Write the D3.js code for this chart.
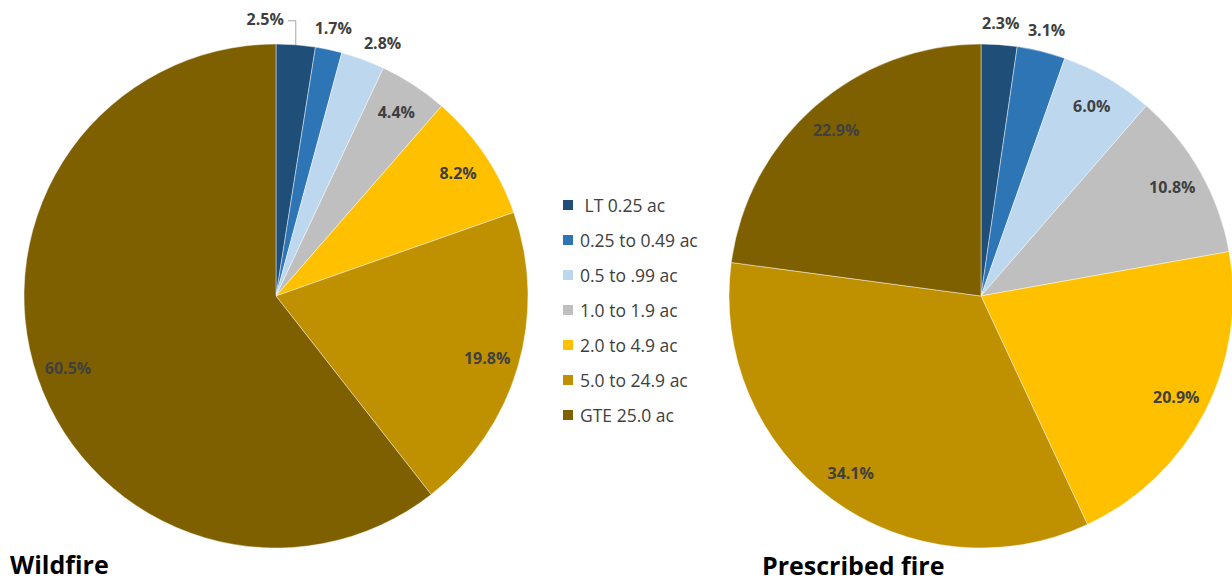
<!DOCTYPE html>
<html>
<head>
<meta charset="utf-8">
<script src="https://cdn.jsdelivr.net/npm/d3@7/dist/d3.min.js"></script>
<style>
  html, body { margin: 0; padding: 0; background: #fff; }
  svg { display: block; }
</style>
</head>
<body>
<svg id="chart" width="1232" height="581"></svg>
<script>
// Fire size classes (acres)
const sizeClasses = ["LT 0.25 ac", "0.25 to 0.49 ac", "0.5 to .99 ac", "1.0 to 1.9 ac", "2.0 to 4.9 ac", "5.0 to 24.9 ac", "GTE 25.0 ac"];
const legendLabels = [" LT 0.25 ac", "0.25 to 0.49 ac", "0.5 to .99 ac", "1.0 to 1.9 ac", "2.0 to 4.9 ac", "5.0 to 24.9 ac", "GTE 25.0 ac"];
const classColors = ["#1f4e79", "#2e75b6", "#bdd7ee", "#bfbfbf", "#ffc000", "#bf9000", "#7f6000"];

// Share of fires by size class (%)
const wildfireShare = [2.5, 1.7, 2.8, 4.4, 8.2, 19.8, 60.5];
const prescribedShare = [2.3, 3.1, 6.0, 10.8, 20.9, 34.1, 22.9];

const chartTitles = ["Wildfire", "Prescribed fire"];

const svg = d3.select("#chart");
const R = 252;
const FONT = "'Open Sans', 'Noto Sans', sans-serif";

const color = d3.scaleOrdinal().domain(sizeClasses).range(classColors);
const pie = d3.pie().sort(null).value(d => d.value);
const arc = d3.arc().innerRadius(0).outerRadius(R);
const insideArc = d3.arc().innerRadius(R - 32).outerRadius(R - 32);
const outsideArc = d3.arc().innerRadius(R + 22).outerRadius(R + 22);

function drawPie(values, cx, cy) {
  const data = sizeClasses.map((c, i) => ({ cls: c, value: values[i] }));
  const arcs = pie(data);
  const g = svg.append("g").attr("transform", `translate(${cx},${cy})`);

  g.selectAll("path.slice")
    .data(arcs)
    .join("path")
    .attr("class", "slice")
    .attr("d", arc)
    .attr("fill", d => color(d.data.cls))
    .attr("stroke", "rgba(255,255,255,0.55)")
    .attr("stroke-width", 0.8);

  // Small slices get their label outside the rim, the rest inside near the edge
  const labels = arcs.map(d => {
    const outside = d.data.value < 4;
    const [x, y] = (outside ? outsideArc : insideArc).centroid(d);
    return { d, outside, x, y, text: d.data.value.toFixed(1) + "%" };
  });

  const lg = g.append("g");
  const texts = lg.selectAll("text")
    .data(labels)
    .join("text")
    .attr("x", l => l.x)
    .attr("y", l => l.y)
    .attr("text-anchor", "middle")
    .attr("dominant-baseline", "central")
    .attr("font-family", FONT)
    .attr("font-weight", 700)
    .attr("font-size", 16)
    .attr("fill", "#404040")
    .text(l => l.text);

  // Resolve overlaps between neighbouring outside labels. The first label is
  // moved left of its slice with a leader line; later ones are pushed right.
  const nodes = texts.nodes();
  labels.forEach((l, i) => { l.w = nodes[i].getComputedTextLength(); });
  for (let i = 0; i < labels.length - 1; i++) {
    const a = labels[i], b = labels[i + 1];
    if (!a.outside || !b.outside) continue;
    const overlap = (a.x + a.w / 2) - (b.x - b.w / 2 - 4);
    if (overlap <= 0) continue;
    if (i === 0) {
      const anchorAngle = (a.d.startAngle + a.d.endAngle) / 2;
      const ax = R * Math.sin(anchorAngle), ay = -R * Math.cos(anchorAngle);
      const ly = ay - 26;
      a.x = ax - 12 - a.w / 2;
      a.y = ly;
      d3.select(nodes[i]).attr("x", a.x).attr("y", a.y);
      lg.append("path")
        .attr("d", `M${ax - 8},${ly + 2}H${ax}V${ay}`)
        .attr("fill", "none")
        .attr("stroke", "#a6a6a6")
        .attr("stroke-width", 1);
    } else {
      b.x += overlap + 8;
      b.y += 4;
      d3.select(nodes[i + 1]).attr("x", b.x).attr("y", b.y);
    }
  }
}

drawPie(wildfireShare, 276, 296);
drawPie(prescribedShare, 981, 296);

// Legend
const legend = svg.append("g").attr("transform", "translate(563,205)");
const rowY = d3.scalePoint().domain(sizeClasses).range([0, 210]);
const rows = legend.selectAll("g")
  .data(sizeClasses)
  .join("g")
  .attr("transform", d => `translate(0,${rowY(d)})`);
rows.append("rect")
  .attr("x", 0).attr("y", -5)
  .attr("width", 10).attr("height", 10)
  .attr("fill", d => color(d));
rows.append("text")
  .attr("x", 17)
  .attr("y", 0)
  .attr("dominant-baseline", "central")
  .attr("font-family", FONT)
  .attr("font-size", 17.5)
  .attr("fill", "#404040")
  .style("white-space", "pre")
  .text((d, i) => legendLabels[i]);

// Chart titles
svg.append("text")
  .attr("x", 10).attr("y", 574)
  .attr("font-family", FONT).attr("font-weight", 700).attr("font-size", 25)
  .attr("fill", "#000")
  .text(chartTitles[0]);
svg.append("text")
  .attr("x", 762).attr("y", 575)
  .attr("font-family", FONT).attr("font-weight", 700).attr("font-size", 25)
  .attr("fill", "#000")
  .text(chartTitles[1]);
</script>
</body>
</html>
